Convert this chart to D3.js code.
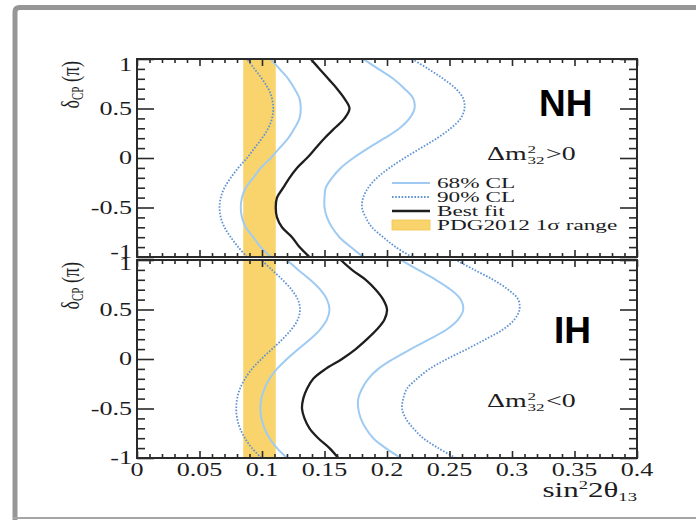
<!DOCTYPE html>
<html><head><meta charset="utf-8">
<script src="https://cdn.jsdelivr.net/npm/d3@7/dist/d3.min.js"></script>
<style>body{margin:0;background:#fff}</style></head>
<body>
<svg id="c" width="696" height="520"></svg>
<script>
// ---- data ----
const delta = [-1,-0.9,-0.8,-0.7,-0.6,-0.5,-0.4,-0.3,-0.2,-0.1,0,0.1,0.2,0.3,0.4,0.5,0.6,0.7,0.8,0.9,1];
// Normal hierarchy (top panel)
const nhBest  = [0.138,0.130,0.124,0.116,0.112,0.111,0.112,0.117,0.122,0.128,0.136,0.143,0.150,0.158,0.166,0.170,0.166,0.160,0.153,0.146,0.139];
const nh68L   = [0.107,0.099,0.093,0.087,0.084,0.083,0.084,0.087,0.093,0.099,0.107,0.114,0.121,0.126,0.130,0.131,0.130,0.126,0.121,0.114,0.107];
const nh68R   = [0.181,0.171,0.162,0.156,0.152,0.150,0.150,0.151,0.156,0.163,0.173,0.185,0.198,0.210,0.218,0.222,0.221,0.214,0.205,0.193,0.181];
const nh90L   = [0.088,0.081,0.075,0.070,0.067,0.066,0.067,0.070,0.075,0.081,0.088,0.094,0.100,0.105,0.108,0.109,0.108,0.105,0.100,0.094,0.088];
const nh90R   = [0.220,0.207,0.197,0.188,0.183,0.180,0.181,0.185,0.192,0.202,0.214,0.227,0.240,0.251,0.259,0.262,0.261,0.255,0.245,0.233,0.220];
// Inverted hierarchy (bottom panel)
const ihBest  = [0.161,0.154,0.145,0.138,0.134,0.132,0.133,0.136,0.141,0.151,0.164,0.175,0.184,0.192,0.198,0.200,0.197,0.191,0.183,0.172,0.163];
const ih68L   = [0.120,0.112,0.106,0.102,0.0995,0.0987,0.0995,0.102,0.106,0.112,0.120,0.129,0.1385,0.1466,0.152,0.154,0.152,0.1466,0.1385,0.129,0.120];
const ih68R   = [0.211,0.199,0.189,0.183,0.179,0.177,0.177,0.180,0.185,0.193,0.205,0.219,0.234,0.248,0.257,0.261,0.259,0.251,0.239,0.225,0.211];
const ih90L   = [0.0995,0.092,0.0864,0.0824,0.0801,0.0794,0.0801,0.0824,0.0864,0.092,0.0995,0.108,0.1164,0.1236,0.1287,0.1304,0.1287,0.1236,0.1164,0.108,0.0995];
const ih90R   = [0.255,0.241,0.229,0.221,0.215,0.212,0.213,0.216,0.224,0.234,0.248,0.264,0.279,0.293,0.302,0.306,0.305,0.297,0.285,0.270,0.255];
const pdgRange = [0.085, 0.111];
const xTicks = [0,0.05,0.1,0.15,0.2,0.25,0.3,0.35,0.4];
const xTickLabels = ["0","0.05","0.1","0.15","0.2","0.25","0.3","0.35","0.4"];
const yTicks = [-1,-0.5,0,0.5,1];
const yTickLabels = ["-1","-0.5","0","0.5","1"];
const legendLabels = ["68% CL","90% CL","Best fit","PDG2012 1σ range"];
const panelNames = ["NH","IH"];

// ---- drawing ----
const svg = d3.select("#c");
const SERIF = "'Liberation Serif','Times New Roman',serif";
const TXT = "#1c1c22";
const C68 = "#9fcbf2", C90 = "#5f93d3", CBF = "#1e1e1e", CBAND = "#f9d46c";

// outer gray frame
svg.append("path").attr("d","M15,520 V12 Q15,7.5 19.5,7.5 H696")
  .attr("fill","none").attr("stroke","#969696").attr("stroke-width",5);
svg.append("line").attr("x1",13).attr("x2",696).attr("y1",518).attr("y2",518)
  .attr("stroke","#a5a5a5").attr("stroke-width",2);

const x = d3.scaleLinear().domain([0,0.4]).range([137,637]);
const panels = [
  {name:panelNames[0], top:59, bottom:257, best:nhBest, l68:nh68L, r68:nh68R, l90:nh90L, r90:nh90R, sign:">"},
  {name:panelNames[1], top:260, bottom:458, best:ihBest, l68:ih68L, r68:ih68R, l90:ih90L, r90:ih90R, sign:"<"}
];

function stext(g, px, py, str, size, anchor, sx){
  return g.append("text")
    .attr("transform",`translate(${px},${py}) scale(${sx},1)`)
    .attr("text-anchor",anchor).attr("font-family",SERIF)
    .attr("font-size",size).attr("fill",TXT).text(str);
}

const xMinor = d3.range(0,0.40001,0.01).filter(v=>!xTicks.some(t=>Math.abs(t-v)<1e-6));
const yMinor = d3.range(-1,1.0001,0.1).filter(v=>!yTicks.some(t=>Math.abs(t-v)<1e-6));

panels.forEach((p,pi)=>{
  const y = d3.scaleLinear().domain([-1,1]).range([p.bottom,p.top]);
  const g = svg.append("g");
  const cid = "clip"+pi;
  svg.append("clipPath").attr("id",cid).append("rect")
    .attr("x",137).attr("y",p.top).attr("width",500).attr("height",p.bottom-p.top);
  const inner = g.append("g").attr("clip-path",`url(#${cid})`);
  // PDG band
  inner.append("rect").attr("x",x(pdgRange[0])).attr("width",x(pdgRange[1])-x(pdgRange[0]))
    .attr("y",p.top).attr("height",p.bottom-p.top).attr("fill",CBAND);
  const line = d3.line().x(d=>x(d[0])).y(d=>y(d[1])).curve(d3.curveCatmullRom.alpha(0.5));
  const zipd = arr => arr.map((v,i)=>[v,delta[i]]);
  [[p.l90,C90,true],[p.r90,C90,true],[p.l68,C68,false],[p.r68,C68,false]].forEach(([arr,col,dot])=>{
    inner.append("path").attr("d",line(zipd(arr))).attr("fill","none")
      .attr("stroke",col).attr("stroke-width",dot?1.8:2)
      .attr("stroke-dasharray",dot?"1.6,1.6":null);
  });
  inner.append("path").attr("d",line(zipd(p.best))).attr("fill","none")
    .attr("stroke",CBF).attr("stroke-width",2.3).attr("stroke-linejoin","round");

  // ticks via d3 axes (inside-pointing)
  const addAxis = (axis, tx, ty) => {
    const a = g.append("g").attr("transform",`translate(${tx},${ty})`).call(axis);
    a.select(".domain").remove();
    a.selectAll("text").remove();
    a.selectAll("line").attr("stroke","#2a2a2a").attr("stroke-width",1.6);
  };
  addAxis(d3.axisLeft(y).tickValues(yTicks).tickSize(-17).tickFormat(""),137,0);
  addAxis(d3.axisLeft(y).tickValues(yMinor).tickSize(-8).tickFormat(""),137,0);
  addAxis(d3.axisRight(y).tickValues(yTicks).tickSize(-17).tickFormat(""),637,0);
  addAxis(d3.axisRight(y).tickValues(yMinor).tickSize(-8).tickFormat(""),637,0);
  addAxis(d3.axisBottom(x).tickValues(xTicks).tickSize(-7).tickFormat(""),0,p.bottom);
  addAxis(d3.axisBottom(x).tickValues(xMinor).tickSize(-4).tickFormat(""),0,p.bottom);
  addAxis(d3.axisTop(x).tickValues(xTicks).tickSize(-7).tickFormat(""),0,p.top);
  addAxis(d3.axisTop(x).tickValues(xMinor).tickSize(-4).tickFormat(""),0,p.top);

  // frame
  g.append("rect").attr("x",137).attr("y",p.top).attr("width",500).attr("height",p.bottom-p.top)
    .attr("fill","none").attr("stroke","#2a2a2a").attr("stroke-width",2);

  // y tick labels
  yTicks.forEach((v,i)=>{
    let off = 0;
    if (pi===0 && v===1) off = 6;
    if (pi===0 && v===-1) off = -5;
    if (pi===1 && v===1) off = 4;
    stext(g, 132, y(v)+6+off, yTickLabels[i], 18, "end", 1.45);
  });

  // y axis title (rotated)
  const yt = g.append("text")
    .attr("transform",`translate(79,${p.top+2}) rotate(-90) scale(1,1.45)`)
    .attr("text-anchor","end").attr("font-family",SERIF).attr("font-size",18).attr("fill",TXT);
  yt.append("tspan").text("δ");
  yt.append("tspan").attr("font-size",11).attr("dy",3).text("CP");
  yt.append("tspan").attr("dy",-3).text(" (π)");

  // hierarchy label
  g.append("text").attr("x",p.name==="NH"?539:554).attr("y",pi===0?116:343)
    .attr("font-family","'Liberation Sans',Arial,sans-serif").attr("font-weight","bold")
    .attr("font-size",37).attr("fill","#000").text(p.name);

  // Δm^2_32 label
  const dg = g.append("g").attr("transform",`translate(487,${pi===0?160:407}) scale(1.55,1)`);
  const t1 = dg.append("text").attr("font-family",SERIF).attr("font-size",18).attr("fill",TXT).text("Δm");
  const w1 = t1.node().getComputedTextLength();
  dg.append("text").attr("x",w1+0.5).attr("y",-7).attr("font-family",SERIF).attr("font-size",11).attr("fill",TXT).text("2");
  const t3 = dg.append("text").attr("x",w1+0.5).attr("y",4).attr("font-family",SERIF).attr("font-size",11).attr("fill",TXT).text("32");
  const w3 = t3.node().getComputedTextLength();
  dg.append("text").attr("x",w1+w3+1.5).attr("font-family",SERIF).attr("font-size",18).attr("fill",TXT).text(p.sign+"0");
});

// x tick labels (bottom panel)
const gx = svg.append("g");
xTicks.forEach((v,i)=> stext(gx, x(v), 476, xTickLabels[i], 18, "middle", 1.45));

// x axis title
{
  const sx = 1.55;
  const tg = svg.append("g");
  const t = tg.append("text").attr("font-family",SERIF).attr("font-size",20).attr("fill",TXT);
  t.append("tspan").text("sin");
  t.append("tspan").attr("font-size",12).attr("dy",-8).text("2");
  t.append("tspan").attr("dy",8).text("2θ");
  t.append("tspan").attr("font-size",12).attr("dy",4).text("13");
  const w = t.node().getComputedTextLength();
  tg.attr("transform",`translate(${637 - w*sx},497) scale(${sx},1)`);
}

// legend (top panel)
{
  const lg = svg.append("g");
  const rows = [183,197,211,225];
  lg.append("line").attr("x1",392).attr("x2",430).attr("y1",rows[0]).attr("y2",rows[0]).attr("stroke",C68).attr("stroke-width",2);
  lg.append("line").attr("x1",392).attr("x2",430).attr("y1",rows[1]).attr("y2",rows[1]).attr("stroke",C90).attr("stroke-width",1.8).attr("stroke-dasharray","1.6,1.6");
  lg.append("line").attr("x1",392).attr("x2",430).attr("y1",rows[2]).attr("y2",rows[2]).attr("stroke",CBF).attr("stroke-width",2.3);
  lg.append("rect").attr("x",392).attr("y",rows[3]-5).attr("width",38).attr("height",10).attr("fill",CBAND).attr("stroke","#f3c24e").attr("stroke-width",0.8);
  legendLabels.forEach((s,i)=> stext(lg, 437, rows[i]+5, s, 15, "start", 1.55));
}
</script>
</body></html>
